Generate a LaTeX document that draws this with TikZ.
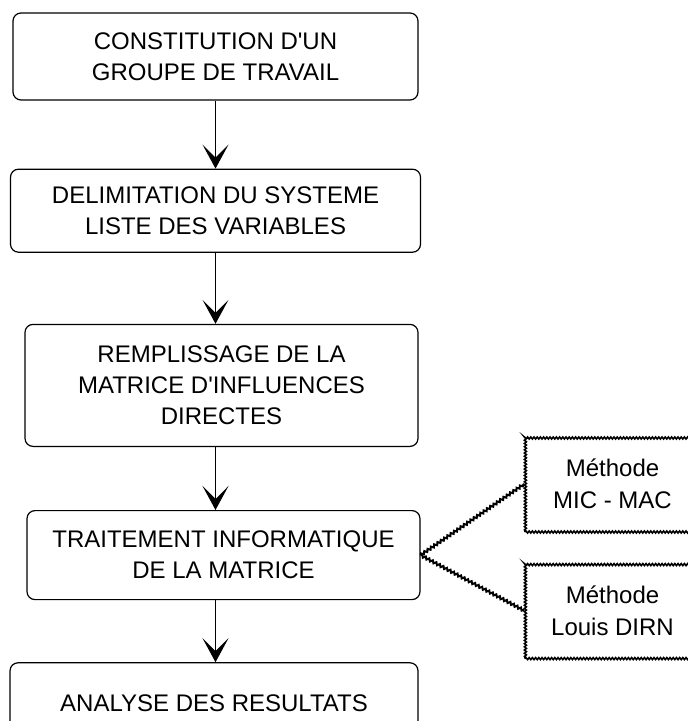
\documentclass[tikz,border=0pt]{standalone}
\usepackage{fontspec}
\setmainfont{Liberation Sans}[Ligatures=TeXOff]
\usetikzlibrary{arrows.meta,positioning,decorations.pathmorphing}

\begin{document}
\begin{tikzpicture}[x=0.5pt,y=-0.5pt,>={Stealth[length=12pt,width=13pt,inset=6.5pt]},
  etape/.style={rectangle, draw, rounded corners=4pt, align=center, line width=0.6pt,
    font=\fontsize{12}{15.5}\selectfont},
  methode/.style={rectangle, draw, align=center, line width=0.8pt, minimum width=87.5pt,
    minimum height=48pt, font=\fontsize{12}{16}\selectfont,
    decorate, decoration={snake,segment length=1.6pt,amplitude=0.5pt}},
  ondule/.style={decorate, decoration={snake,segment length=2pt,amplitude=0.6pt}, line width=1pt}]
\useasboundingbox (0,0) rectangle (687,721);

\node (const) [etape, minimum width=202.5pt, minimum height=43.5pt] at (215.5,56.5) {CONSTITUTION D'UN\\GROUPE DE TRAVAIL};
\node (delim) [etape, minimum width=205pt, minimum height=41.5pt, below=34pt of const] {DELIMITATION DU SYSTEME\\LISTE DES VARIABLES};
\node (remp) [etape, minimum width=196.5pt, minimum height=61pt, below=35.5pt of delim, xshift=3pt] {REMPLISSAGE DE LA\\MATRICE D'INFLUENCES\\DIRECTES};
\node (trait) [etape, minimum width=196.5pt, minimum height=44.5pt, below=31.5pt of remp, xshift=1pt] {TRAITEMENT INFORMATIQUE\\DE LA MATRICE};
\node (analyse) [etape, minimum width=204pt, minimum height=40pt, below=31pt of trait, xshift=-4.75pt] {ANALYSE DES RESULTATS};

\node (mic) [methode] at (612.5,484) {Méthode\\MIC - MAC};
\node (dirn) [methode, below=14.5pt of mic] {Méthode\\Louis DIRN};

\draw[->,line width=0.6pt] (const.south) -- (delim.north);
\draw[->,line width=0.6pt] (delim.south) -- (delim.south |- remp.north);
\draw[->,line width=0.6pt] (delim.south |- remp.south) -- (delim.south |- trait.north);
\draw[->,line width=0.6pt] (delim.south |- trait.south) -- (delim.south |- analyse.north);

\draw[ondule] (trait.east) -- (mic.west);
\draw[ondule] (trait.east) -- (dirn.west);
\end{tikzpicture}
\end{document}
